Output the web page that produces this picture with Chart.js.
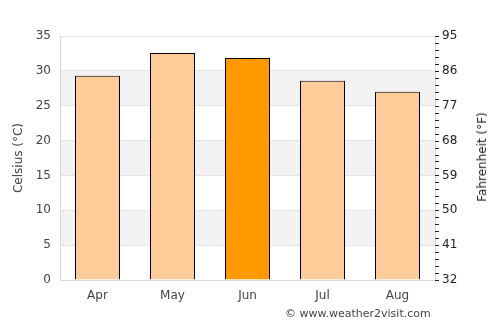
<!DOCTYPE html>
<html>
<head>
<meta charset="utf-8">
<script src="https://cdn.jsdelivr.net/npm/chart.js@4"></script>
<style>
  html, body { margin: 0; padding: 0; background: #fff; }
  #wrap { position: relative; width: 500px; height: 325px; }
  #credit { position: absolute; left: 285px; top: 307px; font: 11px "DejaVu Sans", sans-serif; color: #444; white-space: nowrap; }
  #ftitle { position: absolute; left: 482px; top: 157px; font: 12px "DejaVu Sans", sans-serif; color: #222; white-space: nowrap;
            transform: translate(-50%, -50%) rotate(-90deg); }
</style>
</head>
<body>
<div id="wrap">
  <canvas id="c" width="500" height="325"></canvas>
  <div id="credit">© www.weather2visit.com</div>
  <div id="ftitle">Fahrenheit (°F)</div>
</div>
<script>
const months = ["Apr", "May", "Jun", "Jul", "Aug"];
const celsius = [29.29, 32.57, 31.86, 28.57, 27.0];
const highlightMonth = "Jun";
const fahrenheitTicks = [32, 41, 50, 59, 68, 77, 86, 95];
const shadedBands = [[5, 10], [15, 20], [25, 30]];

const fillColors = months.map(m => m === highlightMonth ? "#ff9900" : "#ffcc99");

const bandsPlugin = {
  id: "bands",
  beforeDraw(chart) {
    const { ctx, chartArea: a, scales } = chart;
    const y = scales.y;
    ctx.save();
    ctx.fillStyle = "#f2f2f2";
    shadedBands.forEach(([lo, hi]) => {
      const t = y.getPixelForValue(hi), b = y.getPixelForValue(lo);
      ctx.fillRect(a.left, t, a.right - a.left, b - t);
    });
    ctx.restore();
  }
};

const minorTicksPlugin = {
  id: "minorTicks",
  afterDraw(chart) {
    const { ctx, chartArea: a, scales } = chart;
    const y = scales.y;
    ctx.save();
    ctx.strokeStyle = "#222";
    ctx.lineWidth = 1;
    for (let v = 0; v <= 35; v += 1) {
      const py = Math.round(y.getPixelForValue(v)) + 0.5;
      ctx.beginPath();
      ctx.moveTo(a.right, py);
      ctx.lineTo(a.right + 4, py);
      ctx.stroke();
    }
    ctx.restore();
  }
};

Chart.defaults.font.family = "'DejaVu Sans', sans-serif";
Chart.defaults.font.size = 12;
Chart.defaults.color = "#444";

new Chart(document.getElementById("c"), {
  type: "bar",
  data: {
    labels: months,
    datasets: [{
      data: celsius,
      backgroundColor: fillColors,
      borderColor: "#000",
      borderWidth: 1,
      categoryPercentage: 0.6,
      barPercentage: 1.0,
      yAxisID: "y"
    }]
  },
  options: {
    responsive: false,
    animation: false,
    layout: { padding: { top: 36, right: 0, left: 0, bottom: 0 } },
    plugins: { legend: { display: false }, tooltip: { enabled: false } },
    scales: {
      x: {
        grid: { display: false, drawTicks: false },
        border: { color: "#d9d9d9" },
        ticks: { padding: 9, color: "#444" },
        afterFit(s) { s.height = 45; }
      },
      y: {
        position: "left",
        min: 0, max: 35,
        ticks: { stepSize: 5, padding: 9, color: "#444" },
        grid: { color: "#e3e3e3", drawTicks: false },
        border: { color: "#d9d9d9" },
        title: { display: true, text: "Celsius (°C)", color: "#444", padding: { top: 12, bottom: 0 } },
        afterFit(s) { s.width = 60; }
      },
      y2: {
        position: "right",
        min: 32, max: 95,
        afterBuildTicks(s) { s.ticks = fahrenheitTicks.map(v => ({ value: v })); },
        ticks: { padding: 7, color: "#222" },
        grid: { drawOnChartArea: false, drawTicks: false },
        border: { color: "#d9d9d9" },
        title: { display: false },
        afterFit(s) { s.width = 65; }
      }
    }
  },
  plugins: [bandsPlugin, minorTicksPlugin]
});
</script>
</body>
</html>
